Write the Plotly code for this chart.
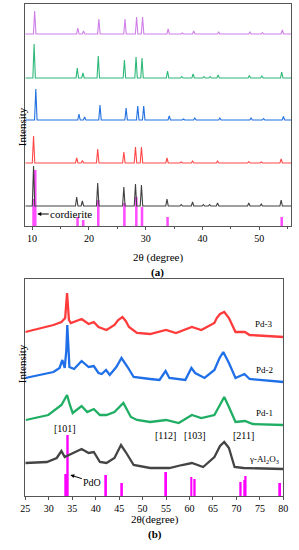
import plotly.graph_objects as go

# ---------------- Panel (a): cordierite-based patterns ----------------
A_PEAKS = [10.4, 18.0, 19.0, 21.7, 26.3, 28.35, 29.4, 33.9, 36.4, 38.4, 40.3, 41.4, 42.8, 48.3, 50.5, 54.0]
A_NAMES = ["violet", "green", "blue", "red", "black"]
A_HEIGHTS = {
    "violet": [23, 6, 3, 15, 15, 17, 17, 5, 1, 3, 0.5, 0.5, 2, 2, 1.5, 4],
    "green":  [34, 10, 5, 22, 18, 21, 20, 7, 1.5, 4, 1.5, 1.5, 3, 2.5, 2, 6],
    "blue":   [31, 6, 3, 15, 12, 14, 14, 4, 1, 2, 0.5, 0.5, 2, 2, 1.5, 3.5],
    "red":    [27, 5, 2.5, 14, 11, 16, 16, 5, 1, 2, 0.5, 0.5, 2, 1.5, 1, 4],
    "black":  [40, 9, 5, 23, 19, 22, 21, 7, 1.5, 4, 1.5, 1.5, 3, 3, 2, 6],
}
A_SHIFT = {"violet": 0.05, "green": -0.05, "blue": 0.25, "red": -0.15, "black": -0.15}
A_OFFSET = {"violet": 192, "green": 148, "blue": 106, "red": 63, "black": 20}
A_COLORS = {"violet": "#cf7fe8", "green": "#2db878", "blue": "#2070e0", "red": "#ff4848", "black": "#404040"}
A_XSTART, A_XEND = 8.8, 55.6

CORD_POS = [10.25, 10.55, 18.0, 19.0, 21.65, 26.25, 28.35, 29.35, 33.85, 53.95]
CORD_INT = [27, 56, 9, 6, 26, 23, 29, 19, 9, 9]

# ---------------- Panel (b): Pd catalysts ----------------
PD3_X = [25.0, 31.0, 32.7, 33.5, 33.9, 34.3, 34.7, 37.0, 38.5, 39.6, 40.6, 42.3, 44.0, 44.8, 45.7, 46.4, 47.1, 48.8, 51.6, 55.0, 57.1, 60.5, 62.5, 65.3, 65.8, 66.5, 67.4, 68.4, 69.8, 71.8, 72.8, 80.0]
PD3_Y = [164, 171, 174, 178, 203, 176, 173, 177, 172, 174, 169, 166, 171, 176, 179, 175, 169, 163, 162, 166, 163, 169, 166, 173, 178, 182, 184, 178, 164, 164, 161, 159]

PD2_X = [25.0, 31.0, 32.3, 32.9, 33.4, 33.75, 33.95, 34.2, 34.4, 35.4, 37.0, 38.5, 39.6, 40.6, 41.3, 42.2, 43.0, 44.4, 45.5, 46.8, 48.1, 51.6, 53.6, 54.9, 55.7, 59.1, 60.4, 61.2, 63.2, 65.3, 66.4, 67.2, 68.4, 69.8, 71.7, 72.8, 80.0]
PD2_Y = [118, 124, 128, 136, 128, 146, 171, 141, 129, 127, 135, 129, 130, 123, 122, 126, 121, 129, 138, 129, 119, 117, 116, 125, 118, 116, 128, 123, 118, 126, 138, 144, 133, 118, 122, 117, 114]

PD1_X = [25.1, 29.9, 32.7, 33.3, 33.9, 34.5, 35.1, 37.0, 38.2, 39.6, 40.9, 42.3, 44.0, 45.9, 47.5, 48.8, 51.6, 55.0, 57.7, 60.5, 62.5, 65.3, 66.5, 67.4, 68.4, 69.8, 71.8, 73.5, 80.0]
PD1_Y = [76, 81, 91, 96, 101, 91, 83, 90, 84, 87, 81, 81, 84, 93, 79, 76, 74, 76, 73, 81, 78, 81, 92, 99, 89, 74, 75, 72, 71]

AL_X = [25.0, 29.6, 31.7, 32.7, 33.4, 34.4, 37.0, 38.5, 39.6, 40.9, 42.3, 44.0, 45.4, 46.4, 48.1, 51.6, 55.7, 58.4, 60.5, 62.9, 65.3, 66.5, 67.4, 68.4, 69.6, 71.5, 80.0]
AL_Y = [33, 34, 38, 45, 39, 41, 47, 43, 44, 34, 33, 38, 51, 44, 31, 28, 28, 31, 33, 29, 39, 50, 54, 48, 29, 28, 27]

PDO_POS = [33.7, 34.05, 42.2, 45.6, 55.0, 60.4, 61.1, 70.9, 71.7, 71.95, 79.3]
PDO_INT = [22, 61, 21, 13, 24, 19, 17, 14, 16, 20, 13]

B_SERIES = [("Pd-3", PD3_X, PD3_Y, "#ff3b3b"),
            ("Pd-2", PD2_X, PD2_Y, "#1f6fe8"),
            ("Pd-1", PD1_X, PD1_Y, "#1fae64"),
            ("γ-Al2O3", AL_X, AL_Y, "#444444")]

SERIF = "Liberation Serif"
W, H = 299, 550

fig = go.Figure()

# panel (a) bars
fig.add_trace(go.Bar(x=CORD_POS, y=CORD_INT, width=0.45, marker_color="#ff4dff",
                     marker_line_width=0, xaxis="x", yaxis="y", showlegend=False))

# panel (a) lines built from read peak positions / heights
for name in A_NAMES:
    xs, ys = [A_XSTART], [A_OFFSET[name]]
    for p, h in zip(A_PEAKS, A_HEIGHTS[name]):
        c = p + A_SHIFT[name]
        xs += [c - 0.22, c, c + 0.22]
        ys += [A_OFFSET[name], A_OFFSET[name] + h, A_OFFSET[name]]
    xs.append(A_XEND)
    ys.append(A_OFFSET[name])
    fig.add_trace(go.Scatter(x=xs, y=ys, mode="lines", line=dict(color=A_COLORS[name], width=1.1),
                             xaxis="x", yaxis="y", showlegend=False))

# panel (b)
fig.add_trace(go.Bar(x=PDO_POS, y=PDO_INT, width=0.4, marker_color="#ff00ff",
                     marker_line_width=0, xaxis="x2", yaxis="y2", showlegend=False))
for name, xs, ys, col in B_SERIES:
    fig.add_trace(go.Scatter(x=xs, y=ys, mode="lines", line=dict(color=col, width=2.3),
                             xaxis="x2", yaxis="y2", showlegend=False))

ax_common = dict(showline=True, mirror=True, linecolor="#555555", linewidth=1, showgrid=False,
                 zeroline=False, ticks="outside", ticklen=3, tickcolor="#555555",
                 tickfont=dict(family=SERIF, size=10, color="black"))

fig.update_layout(
    width=W, height=H, margin=dict(l=0, r=0, t=0, b=0),
    paper_bgcolor="white", plot_bgcolor="white", barmode="overlay",
    font=dict(family=SERIF, color="black"),
    xaxis=dict(domain=[21 / W, 296 / W], range=[A_XSTART, A_XEND], tickvals=[10, 20, 30, 40, 50],
               minor=dict(tickvals=[15, 25, 35, 45, 55], ticks="outside", ticklen=2, tickcolor="#555555"),
               anchor="y", **ax_common),
    yaxis=dict(domain=[1 - 226 / H, 1 - 4 / H], range=[0, 222], showticklabels=False, anchor="x",
               showline=True, mirror=True, linecolor="#555555", linewidth=1, showgrid=False,
               zeroline=False, ticks=""),
    xaxis2=dict(domain=[21 / W, 288 / W], range=[25, 80], tickvals=list(range(25, 81, 5)),
                anchor="y2", **ax_common),
    yaxis2=dict(domain=[1 - 496 / H, 1 - 279 / H], range=[0, 217], showticklabels=False, anchor="x2",
                showline=True, mirror=True, linecolor="#555555", linewidth=1, showgrid=False,
                zeroline=False, ticks=""),
)

def pap(text, x, y, size=11, bold=False, angle=0):
    fig.add_annotation(text=f"<b>{text}</b>" if bold else text, x=x / W, y=1 - y / H,
                       xref="paper", yref="paper", showarrow=False, textangle=angle,
                       font=dict(family=SERIF, size=size, color="black"))

pap("Intensity", 9, 105, size=11, angle=-90)
pap("2θ (degree)", 158, 257, size=11)
pap("(a)", 158, 272, size=11, bold=True)
pap("Intensity", 9, 385, size=11, angle=-90)
pap("2θ(degree)", 155, 528, size=11)
pap("(b)", 155, 543, size=11, bold=True)

# cordierite arrow
fig.add_annotation(text="cordierite", x=10.9, y=12, xref="x", yref="y", ax=34, ay=0,
                   showarrow=True, arrowhead=2, arrowsize=0.8, arrowwidth=1, arrowcolor="black",
                   font=dict(family=SERIF, size=11, color="black"))
# PdO arrow
fig.add_annotation(text="PdO", x=34.6, y=21, xref="x2", yref="y2", ax=22, ay=7,
                   showarrow=True, arrowhead=2, arrowsize=0.8, arrowwidth=1, arrowcolor="black",
                   font=dict(family=SERIF, size=10, color="black"))

for txt, x, y in [("[101]", 33.4, 68), ("[112]", 54.9, 61), ("[103]", 61.2, 61), ("[211]", 71.5, 61)]:
    fig.add_annotation(text=txt, x=x, y=y, xref="x2", yref="y2", showarrow=False,
                       font=dict(family=SERIF, size=10, color="black"))
for txt, y in [("Pd-3", 172), ("Pd-2", 126), ("Pd-1", 83), ("γ-Al<sub>2</sub>O<sub>3</sub>", 37)]:
    fig.add_annotation(text=txt, x=75.9, y=y, xref="x2", yref="y2", showarrow=False,
                       font=dict(family=SERIF, size=9, color="black"))

fig.write_html("out.html", config={"displayModeBar": False},
               post_script="document.body.style.margin='0';document.body.style.overflow='hidden';")
